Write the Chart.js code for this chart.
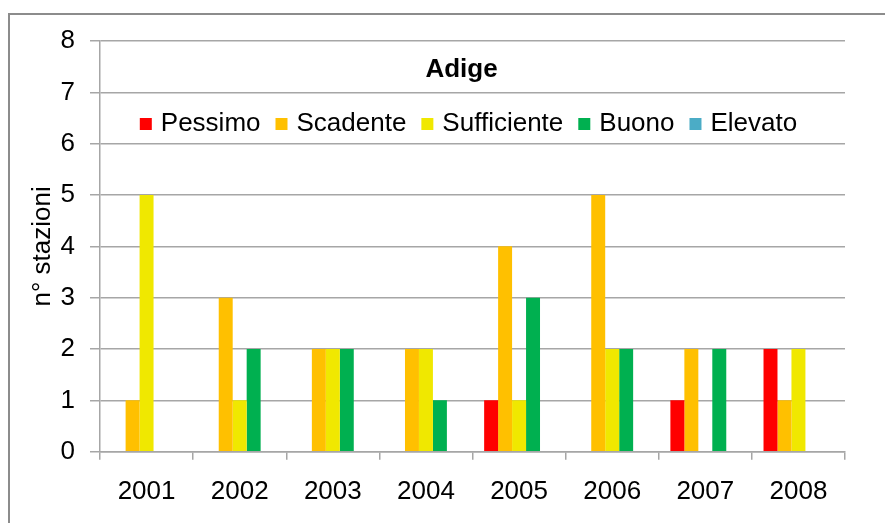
<!DOCTYPE html>
<html>
<head>
<meta charset="utf-8">
<script src="https://cdn.jsdelivr.net/npm/chart.js@4"></script>
<style>
  html, body { margin: 0; padding: 0; background: #fff; overflow: hidden; }
  #wrap { position: relative; width: 885px; height: 523px; }
  #frame { position: absolute; left: 8px; top: 13px; width: 1000px; height: 1000px;
           border: 2px solid #8c8c8c; pointer-events: none; }
  canvas { position: absolute; left: 0; top: 0; }
</style>
</head>
<body>
<div id="wrap">
  <canvas id="chart" width="885" height="523"></canvas>
  <div id="frame"></div>
</div>
<script>
const years = ['2001', '2002', '2003', '2004', '2005', '2006', '2007', '2008'];
const pessimo     = [0, 0, 0, 0, 1, 0, 1, 2];
const scadente    = [1, 3, 2, 2, 4, 5, 2, 1];
const sufficiente = [5, 1, 2, 2, 1, 2, 0, 2];
const buono       = [0, 2, 2, 1, 3, 2, 2, 0];
const elevato     = [0, 0, 0, 0, 0, 0, 0, 0];
const chartTitle = 'Adige';

const FONT = "'Liberation Sans', Arial, sans-serif";
const gridColor = '#a6a6a6';

// title + legend drawn inside the plot area, as in the original
const innerLegend = {
    id: 'innerLegend',
    afterDraw(chart) {
        const { ctx, chartArea } = chart;
        const cx = (chartArea.left + chartArea.right) / 2 - 4;
        ctx.save();
        ctx.fillStyle = '#000';
        ctx.textBaseline = 'middle';
        ctx.textAlign = 'center';
        ctx.font = 'bold 26px ' + FONT;
        ctx.fillText(chartTitle, cx - 7, chartArea.top + 29);

        ctx.font = '26px ' + FONT;
        ctx.textAlign = 'left';
        const box = 12, gap = 9, spacing = 15;
        const items = chart.data.datasets.map(ds => ({
            label: ds.label, color: ds.backgroundColor,
            w: box + gap + ctx.measureText(ds.label).width
        }));
        const total = items.reduce((a, it) => a + it.w, 0) + spacing * (items.length - 1);
        let x = cx - total / 2;
        const y = chartArea.top + 83;
        items.forEach(it => {
            ctx.fillStyle = it.color;
            ctx.fillRect(x, y - box / 2, box, box);
            ctx.fillStyle = '#000';
            ctx.fillText(it.label, x + box + gap, y);
            x += it.w + spacing;
        });
        ctx.restore();
    }
};

const ctx = document.getElementById('chart').getContext('2d');
new Chart(ctx, {
    type: 'bar',
    data: {
        labels: years,
        datasets: [
            { label: 'Pessimo', data: pessimo, backgroundColor: '#ff0000' },
            { label: 'Scadente', data: scadente, backgroundColor: '#ffc000' },
            { label: 'Sufficiente', data: sufficiente, backgroundColor: '#f0e800' },
            { label: 'Buono', data: buono, backgroundColor: '#00b050' },
            { label: 'Elevato', data: elevato, backgroundColor: '#4bacc6' }
        ]
    },
    plugins: [innerLegend],
    options: {
        responsive: false,
        animation: false,
        categoryPercentage: 0.75,
        barPercentage: 1,
        layout: { padding: { top: 41, right: 40, bottom: 0, left: 0 } },
        plugins: {
            tooltip: { enabled: false },
            legend: { display: false }
        },
        scales: {
            x: {
                afterFit: s => { s.height = 71.3; },
                grid: {
                    display: true,
                    drawOnChartArea: false,
                    drawTicks: true,
                    tickLength: 8,
                    color: gridColor,
                    lineWidth: 1.5
                },
                border: { color: gridColor, width: 1.5 },
                ticks: { color: '#000', font: { family: FONT, size: 26 }, padding: 17, maxRotation: 0 }
            },
            y: {
                min: 0,
                max: 8,
                afterFit: s => { s.width = 100; },
                ticks: { stepSize: 1, color: '#000', font: { family: FONT, size: 26 }, padding: 15 },
                grid: { color: gridColor, lineWidth: 1.5, tickLength: 10 },
                border: { color: gridColor, width: 1.5 },
                title: {
                    display: true,
                    text: 'n° stazioni',
                    color: '#000',
                    font: { family: FONT, size: 26 },
                    padding: { top: 27, bottom: 0 }
                }
            }
        }
    }
});
</script>
</body>
</html>
